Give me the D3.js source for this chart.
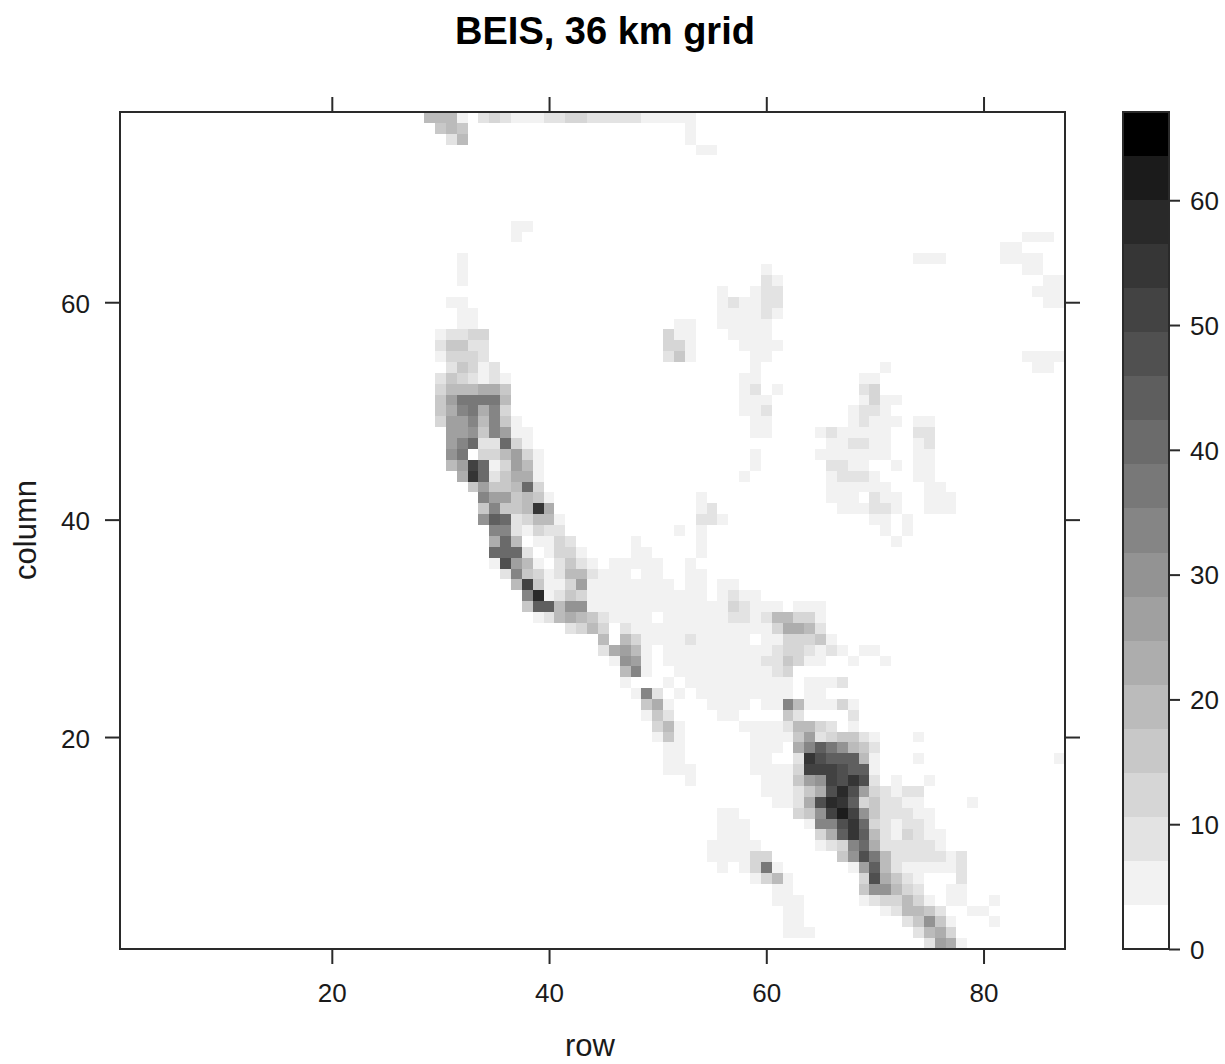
<!DOCTYPE html>
<html>
<head>
<meta charset="utf-8">
<title>BEIS, 36 km grid</title>
<script src="https://cdn.jsdelivr.net/npm/d3@7"></script>
<style>
	html, body { margin: 0; padding: 0; background: #fff; }
	svg { display: block; }
	text { font-family: "Liberation Sans", Arial, sans-serif; fill: #1a1a1a; }
</style>
</head>
<body>
<div id="d3"></div>
<script>
var rowTicks = [20, 40, 60, 80];
var columnTicks = [20, 40, 60];
var legendTicks = [0, 10, 20, 30, 40, 50, 60];
var bandColors = ["#ffffff", "#f2f2f2", "#e3e3e3", "#d6d6d6", "#c8c8c8", "#bbbbbb", "#adadad", "#a0a0a0", "#939393", "#858585",
	"#787878", "#6b6b6b", "#5e5e5e", "#505050", "#434343", "#363636", "#292929", "#1b1b1b", "#000000"];
var bandStep = 3.53;

// one entry per run of cells: [column, first row, band of each cell in base 19]
var runs = [
	[77, 29, "5551"], [77, 34, "23211122332222211111"],
	[76, 30, "454"], [76, 53, "1"],
	[75, 31, "25"], [75, 53, "1"],
	[74, 54, "11"],
	[67, 37, "11"],
	[66, 37, "1"], [66, 84, "111"],
	[65, 82, "11"],
	[64, 32, "1"], [64, 74, "111"], [64, 82, "1111"],
	[63, 32, "1"], [63, 60, "1"], [63, 84, "11"],
	[62, 32, "1"], [62, 60, "21"], [62, 86, "11"],
	[61, 56, "1"], [61, 59, "122"], [61, 85, "111"],
	[60, 31, "11"], [60, 56, "121122"], [60, 86, "11"],
	[59, 32, "11"], [59, 56, "111121"],
	[58, 32, "11"], [58, 52, "11"], [58, 56, "11111"],
	[57, 30, "12233"], [57, 51, "311"], [57, 57, "1111"],
	[56, 30, "24422"], [56, 51, "331"], [56, 58, "1111"],
	[55, 30, "13332"], [55, 51, "241"], [55, 59, "11"], [55, 84, "1111"],
	[54, 31, "24312"], [54, 59, "1"], [54, 71, "1"], [54, 85, "11"],
	[53, 30, "2432121"], [53, 58, "11"], [53, 69, "11"],
	[52, 30, "3555664"], [52, 58, "12"], [52, 61, "1"], [52, 69, "23"],
	[51, 30, "47aaaa5"], [51, 58, "111"], [51, 69, "1311"],
	[50, 30, "469a693"], [50, 58, "112"], [50, 68, "1221"],
	[49, 30, "37795941"], [49, 59, "11"], [49, 68, "12111"], [49, 74, "11"],
	[48, 31, "77849711"], [48, 59, "11"], [48, 65, "1211111"], [48, 74, "22"],
	[47, 31, "79b22b31"], [47, 66, "112211"], [47, 74, "12"],
	[46, 31, "8a0335731"], [46, 59, "1"], [46, 65, "1111111"], [46, 74, "11"],
	[45, 31, "57eb13751"], [45, 59, "1"], [45, 66, "2211"], [45, 72, "1"], [45, 74, "11"],
	[44, 32, "6fb24661"], [44, 58, "1"], [44, 66, "12221"], [44, 74, "11"],
	[43, 33, "47445b3"], [43, 66, "111111"], [43, 75, "11"],
	[42, 34, "9774541"], [42, 54, "1"], [42, 66, "1110211"], [42, 75, "111"],
	[41, 34, "49445f6"], [41, 54, "12"], [41, 67, "111221"], [41, 75, "111"],
	[40, 34, "8cb23551"], [40, 54, "221"], [40, 70, "11"], [40, 73, "1"],
	[39, 35, "9921322"], [39, 52, "1"], [39, 54, "1"], [39, 71, "1"], [39, 73, "1"],
	[38, 35, "6b501132"], [38, 48, "1"], [38, 54, "1"], [38, 72, "1"],
	[37, 35, "bbb201331"], [37, 48, "11"], [37, 54, "1"],
	[36, 35, "1d75102421"], [36, 46, "11111"], [36, 53, "1"],
	[35, 36, "294312552111011"], [35, 53, "11"],
	[34, 37, "5e4113711111111"], [34, 53, "11"], [34, 56, "11"],
	[33, 38, "9g124311111111111" + "01211"],
	[32, 38, "4cc588111111111111132111"], [32, 63, "111"],
	[31, 39, "125654211110111111221255331"],
	[30, 42, "235302111111111111136652"],
	[29, 45, "5053111121111101133341"],
	[28, 45, "26751011111111112332121011"],
	[27, 46, "18710111111111224311"], [27, 68, "1"], [27, 71, "1"],
	[26, 47, "591"], [26, 52, "11111111123"],
	[25, 47, "1"], [25, 51, "1"], [25, 53, "1111111111"], [25, 64, "1112"],
	[24, 48, "192"], [24, 52, "1"], [24, 54, "111111111"], [24, 64, "11"],
	[23, 49, "461"], [23, 55, "1111"], [23, 60, "119511131"],
	[22, 49, "142"], [22, 56, "11"], [22, 62, "42"], [22, 68, "2"],
	[21, 50, "351"], [21, 58, "1111"], [21, 62, "25532"], [21, 68, "1"],
	[20, 50, "141"], [20, 59, "1111"], [20, 63, "47234421"], [20, 74, "1"],
	[19, 51, "11"], [19, 59, "111"], [19, 63, "69ca8542"],
	[18, 51, "11"], [18, 59, "11"], [18, 63, "2fdccc51"], [18, 74, "1"], [18, 87, "1"],
	[17, 51, "111"], [17, 59, "1111"], [17, 63, "3eeedcc1"],
	[16, 53, "1"], [16, 60, "111"], [16, 63, "478edfd2"], [16, 72, "1"], [16, 75, "1"],
	[15, 60, "111246dgd732122"],
	[14, 61, "11"], [14, 63, "26dgfc342211"], [14, 79, "1"],
	[13, 56, "11"], [13, 63, "348ehe8422211"],
	[12, 56, "111"], [12, 64, "199dfb321221"],
	[11, 56, "111"], [11, 65, "36cfc5213211"],
	[10, 55, "11111"], [10, 65, "1239b6222221"],
	[9, 55, "1111"], [9, 59, "33"], [9, 67, "48da52222212"],
	[8, 56, "1"], [8, 58, "13a1"], [8, 68, "17c52111112"],
	[7, 59, "1351"], [7, 69, "3d6421"], [7, 78, "2"],
	[6, 61, "11"], [6, 69, "488532"], [6, 77, "11"],
	[5, 61, "111"], [5, 69, "1233531"], [5, 77, "11"], [5, 81, "1"],
	[4, 62, "11"], [4, 71, "125542"], [4, 79, "11"],
	[3, 62, "11"], [3, 73, "24841"], [3, 81, "1"],
	[2, 62, "111"], [2, 74, "2563"],
	[1, 75, "2761"]
];

function makeCells(runs){
	var rv = [];
	runs.forEach(function(run){
		run[2].split('').forEach(function(ch, i){
			var band = parseInt(ch, 19);
			if (band > 0){
				rv.push({column: run[0], row: run[1] + i, value: (band + 0.5) * bandStep});
			}
		});
	});
	return rv;
}

var cells = makeCells(runs);
var breaks = d3.range(1, bandColors.length).map(function(i){ return i * bandStep; });
var color = d3.scaleThreshold().domain(breaks).range(bandColors);

var left = 120, right = 1065, top_ = 112, bottom = 949;
var barLeft = 1123, barRight = 1169;
var x = d3.scaleLinear().domain([0.5, 87.5]).range([left, right]);
var y = d3.scaleLinear().domain([0.5, 77.5]).range([bottom, top_]);
var legend = d3.scaleLinear().domain([0, bandColors.length * bandStep]).range([bottom, top_]);

var svg = d3.select('#d3').append('svg').attr('width', 1225).attr('height', 1064);

//the picture is a little soft at the cell edges
svg.append('defs').append('filter')
	.attr('id', 'soft')
  .append('feGaussianBlur')
	.attr('stdDeviation', 0.5);

svg.append('g').attr('filter', 'url(#soft)').selectAll('rect')
	.data(cells)
  .enter().append('rect')
	.attr('x', function(d){ return x(d.row - 0.5); })
	.attr('y', function(d){ return y(d.column + 0.5); })
	.attr('width', function(d){ return x(d.row + 0.5) - x(d.row - 0.5); })
	.attr('height', function(d){ return y(d.column - 0.5) - y(d.column + 0.5); })
	.attr('shape-rendering', 'crispEdges')
	.attr('fill', function(d){ return color(d.value); });

//colour key
svg.append('g').selectAll('rect')
	.data(bandColors)
  .enter().append('rect')
	.attr('x', barLeft)
	.attr('y', function(d, i){ return legend((i + 1) * bandStep); })
	.attr('width', barRight - barLeft)
	.attr('height', function(d, i){ return legend(i * bandStep) - legend((i + 1) * bandStep); })
	.attr('shape-rendering', 'crispEdges')
	.attr('fill', function(d){ return d; });

function frame(x0, y0, x1, y1){
	svg.append('rect')
		.attr('x', x0).attr('y', y0)
		.attr('width', x1 - x0).attr('height', y1 - y0)
		.attr('fill', 'none')
		.attr('stroke', '#2a2a2a')
		.attr('stroke-width', 2);
}
frame(left, top_, right, bottom);
frame(barLeft, top_, barRight, bottom);

function addAxis(axis, tx, ty, dy){
	var g = svg.append('g').attr('transform', 'translate(' + tx + ',' + ty + ')').call(axis);
	g.select('.domain').remove();
	g.selectAll('line').attr('stroke', '#2a2a2a').attr('stroke-width', 2);
	g.selectAll('text').attr('font-size', 26).attr('font-family', null);
	if (dy){
		g.selectAll('text').attr('dy', dy);
	}
	return g;
}

addAxis(d3.axisBottom(x).tickValues(rowTicks).tickSize(15).tickPadding(20), 0, bottom);
addAxis(d3.axisTop(x).tickValues(rowTicks).tickSize(15).tickFormat(''), 0, top_);
addAxis(d3.axisLeft(y).tickValues(columnTicks).tickSize(15).tickPadding(15), left, 0, '0.39em');
addAxis(d3.axisRight(y).tickValues(columnTicks).tickSize(15).tickFormat(''), right, 0);
addAxis(d3.axisRight(legend).tickValues(legendTicks).tickSize(11).tickPadding(10), barRight, 0, '0.36em');

svg.append('text')
	.attr('x', 605).attr('y', 44)
	.attr('text-anchor', 'middle')
	.attr('font-size', 38)
	.attr('font-weight', 'bold')
	.style('fill', '#000')
	.text('BEIS, 36 km grid');

svg.append('text')
	.attr('x', 590).attr('y', 1056)
	.attr('text-anchor', 'middle')
	.attr('font-size', 31)
	.text('row');

svg.append('text')
	.attr('transform', 'translate(36,530) rotate(-90)')
	.attr('text-anchor', 'middle')
	.attr('font-size', 31)
	.text('column');
</script>
</body>
</html>
